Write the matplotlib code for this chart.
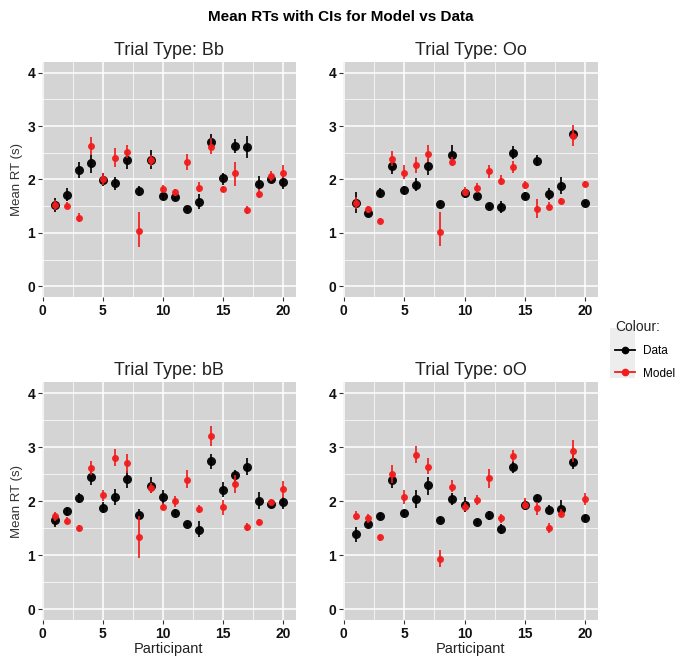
import matplotlib
matplotlib.use("Agg")
import matplotlib.pyplot as plt
from matplotlib.lines import Line2D
from matplotlib.patches import Rectangle
import numpy as np

plt.rcParams["font.family"] = ["Liberation Sans", "DejaVu Sans"]

participants = np.arange(1, 21)
trial_types = ["Bb", "Oo", "bB", "oO"]

# mean RT, lower CI, upper CI for each trial type
data_mean = {
    "Bb": [1.52, 1.71, 2.17, 2.30, 1.99, 1.93, 2.36, 1.79, 2.37, 1.70, 1.68, 1.45, 1.58, 2.70, 2.02, 2.63, 2.61, 1.92, 2.00, 1.95],
    "Oo": [1.56, 1.37, 1.75, 2.25, 1.80, 1.90, 2.25, 1.55, 2.45, 1.74, 1.69, 1.50, 1.48, 2.50, 1.70, 2.34, 1.73, 1.87, 2.85, 1.56],
    "bB": [1.65, 1.81, 2.05, 2.45, 1.88, 2.08, 2.41, 1.75, 2.28, 2.07, 1.79, 1.57, 1.47, 2.75, 2.21, 2.48, 2.63, 2.00, 1.94, 1.98],
    "oO": [1.39, 1.57, 1.72, 2.40, 1.78, 2.04, 2.29, 1.66, 2.04, 1.93, 1.62, 1.74, 1.49, 2.63, 1.93, 2.06, 1.84, 1.86, 2.73, 1.68],
}
data_lo = {
    "Bb": [1.40, 1.60, 2.03, 2.13, 1.87, 1.80, 2.20, 1.70, 2.20, 1.62, 1.62, 1.41, 1.45, 2.57, 1.90, 2.50, 2.40, 1.80, 1.94, 1.82],
    "Oo": [1.38, 1.32, 1.67, 2.10, 1.73, 1.78, 2.08, 1.50, 2.30, 1.65, 1.63, 1.45, 1.37, 2.38, 1.63, 2.25, 1.62, 1.72, 2.75, 1.52],
    "bB": [1.52, 1.72, 1.97, 2.30, 1.78, 1.93, 2.25, 1.65, 2.15, 1.93, 1.72, 1.54, 1.33, 2.60, 2.08, 2.38, 2.48, 1.85, 1.88, 1.86],
    "oO": [1.25, 1.50, 1.66, 2.25, 1.72, 1.88, 2.12, 1.61, 1.93, 1.80, 1.58, 1.66, 1.40, 2.52, 1.83, 1.98, 1.77, 1.75, 2.60, 1.62],
}
data_hi = {
    "Bb": [1.65, 1.85, 2.32, 2.45, 2.12, 2.05, 2.50, 1.88, 2.55, 1.80, 1.75, 1.49, 1.72, 2.85, 2.13, 2.76, 2.82, 2.06, 2.07, 2.07],
    "Oo": [1.76, 1.42, 1.85, 2.35, 1.88, 2.03, 2.38, 1.60, 2.65, 1.82, 1.76, 1.55, 1.60, 2.63, 1.77, 2.45, 1.85, 2.05, 2.95, 1.60],
    "bB": [1.78, 1.90, 2.15, 2.55, 1.98, 2.22, 2.55, 1.85, 2.45, 2.20, 1.86, 1.60, 1.63, 2.88, 2.35, 2.58, 2.80, 2.17, 2.00, 2.08],
    "oO": [1.53, 1.65, 1.78, 2.52, 1.84, 2.20, 2.45, 1.71, 2.15, 2.08, 1.66, 1.82, 1.58, 2.75, 2.03, 2.12, 1.92, 2.02, 2.85, 1.75],
}
model_mean = {
    "Bb": [1.52, 1.51, 1.27, 2.62, 2.01, 2.41, 2.52, 1.03, 2.36, 1.83, 1.77, 2.32, 1.84, 2.60, 1.82, 2.12, 1.42, 1.73, 2.06, 2.13],
    "Oo": [1.56, 1.44, 1.22, 2.38, 2.12, 2.28, 2.48, 1.02, 2.33, 1.77, 1.84, 2.15, 1.98, 2.23, 1.90, 1.45, 1.49, 1.60, 2.82, 1.92],
    "bB": [1.72, 1.63, 1.50, 2.61, 2.11, 2.80, 2.70, 1.33, 2.24, 1.90, 2.00, 2.40, 1.85, 3.21, 1.89, 2.31, 1.52, 1.62, 1.99, 2.22],
    "oO": [1.73, 1.68, 1.33, 2.50, 2.08, 2.85, 2.64, 0.93, 2.27, 1.90, 2.02, 2.42, 1.68, 2.83, 1.93, 1.87, 1.51, 1.77, 2.93, 2.04],
}
model_lo = {
    "Bb": [1.42, 1.47, 1.20, 2.45, 1.90, 2.23, 2.40, 0.74, 2.25, 1.77, 1.70, 2.17, 1.77, 2.47, 1.77, 1.88, 1.35, 1.65, 1.98, 2.02],
    "Oo": [1.45, 1.38, 1.18, 2.25, 2.00, 2.13, 2.33, 0.75, 2.25, 1.70, 1.75, 2.03, 1.90, 2.12, 1.83, 1.28, 1.42, 1.55, 2.63, 1.86],
    "bB": [1.64, 1.58, 1.44, 2.48, 2.00, 2.65, 2.52, 0.95, 2.15, 1.83, 1.90, 2.25, 1.78, 3.02, 1.75, 2.15, 1.45, 1.57, 1.93, 2.05],
    "oO": [1.65, 1.60, 1.27, 2.33, 1.95, 2.70, 2.50, 0.78, 2.17, 1.82, 1.93, 2.25, 1.60, 2.72, 1.85, 1.75, 1.42, 1.70, 2.72, 1.93],
}
model_hi = {
    "Bb": [1.62, 1.57, 1.38, 2.80, 2.13, 2.58, 2.65, 1.40, 2.45, 1.90, 1.83, 2.48, 1.95, 2.77, 1.88, 2.33, 1.50, 1.82, 2.15, 2.27],
    "Oo": [1.67, 1.50, 1.28, 2.53, 2.27, 2.43, 2.65, 1.40, 2.42, 1.86, 1.93, 2.28, 2.08, 2.35, 1.97, 1.63, 1.58, 1.65, 3.02, 1.98],
    "bB": [1.80, 1.70, 1.56, 2.75, 2.20, 2.97, 2.88, 1.72, 2.33, 1.97, 2.10, 2.57, 1.92, 3.40, 2.02, 2.48, 1.60, 1.67, 2.04, 2.38],
    "oO": [1.82, 1.76, 1.38, 2.67, 2.20, 3.02, 2.80, 1.10, 2.40, 1.98, 2.12, 2.60, 1.77, 2.95, 2.05, 1.98, 1.60, 1.85, 3.14, 2.15],
}

x_ticks = [0, 5, 10, 15, 20]
y_ticks = [0, 1, 2, 3, 4]

panel_bg = "#d4d4d4"
model_col = "#f21c1c"

fig = plt.figure(figsize=(6.81, 6.66), dpi=100)

# [left, bottom, width, height] in figure fractions
positions = {
    "Bb": [0.062, 0.554, 0.372, 0.353],
    "Oo": [0.504, 0.554, 0.374, 0.353],
    "bB": [0.062, 0.069, 0.372, 0.357],
    "oO": [0.504, 0.069, 0.374, 0.357],
}


def draw_series(ax, mean, lo, hi, color, ms, z):
    mean = np.array(mean)
    err = np.vstack([mean - np.array(lo), np.array(hi) - mean])
    ax.errorbar(participants, mean, yerr=err, fmt="o", color=color, ms=ms,
                elinewidth=1.3, capsize=1.5, capthick=1.0, mew=0, zorder=z, alpha=0.95)


for i, tt in enumerate(trial_types):
    ax = fig.add_axes(positions[tt])
    ax.set_facecolor(panel_bg)
    ax.set_xlim(-0.05, 21.05)
    ax.set_ylim(-0.2, 4.2)
    ax.set_xticks(x_ticks)
    ax.set_yticks(y_ticks)
    ax.set_xticks(np.arange(2.5, 21, 5), minor=True)
    ax.set_yticks(np.arange(0.5, 4.1, 1), minor=True)
    ax.grid(which="major", color="white", lw=1.1)
    ax.grid(which="minor", color="white", lw=0.5)
    ax.set_axisbelow(True)
    for s in ax.spines.values():
        s.set_visible(False)
    ax.tick_params(which="major", length=3, color="#333333", labelsize=10, labelcolor="#111111", pad=2)
    ax.tick_params(which="minor", length=0)
    for lab in ax.get_xticklabels() + ax.get_yticklabels():
        lab.set_fontweight("bold")

    draw_series(ax, data_mean[tt], data_lo[tt], data_hi[tt], "black", 6.5, 3)
    draw_series(ax, model_mean[tt], model_lo[tt], model_hi[tt], model_col, 5, 4)

    ax.set_title(f"Trial Type: {tt}", fontsize=13, color="#222222", pad=5)
    if i % 2 == 0:
        ax.set_ylabel("Mean RT (s)", fontsize=9.5, color="#333333", labelpad=3)
    if i >= 2:
        ax.set_xlabel("Participant", fontsize=10.5, color="#222222", labelpad=1)

fig.suptitle("Mean RTs with CIs for Model vs Data", fontsize=11, fontweight="bold", y=0.985)

# legend
fig.patches.append(Rectangle((0.896, 0.432), 0.037, 0.075, transform=fig.transFigure,
                             facecolor="#ededed", edgecolor="none"))
handles = [
    Line2D([0], [0], color="black", marker="o", ms=4.5, lw=1.3),
    Line2D([0], [0], color=model_col, marker="o", ms=4.5, lw=1.3),
]
leg = fig.legend(handles, ["Data", "Model"], title="Colour:", loc="upper left",
                 bbox_to_anchor=(0.888, 0.535), frameon=False, fontsize=8.5,
                 title_fontsize=10, handlelength=1.7, handletextpad=0.6,
                 labelspacing=0.9, alignment="left")
leg.get_title().set_color("#222222")

fig.savefig("out.png", dpi=100)
